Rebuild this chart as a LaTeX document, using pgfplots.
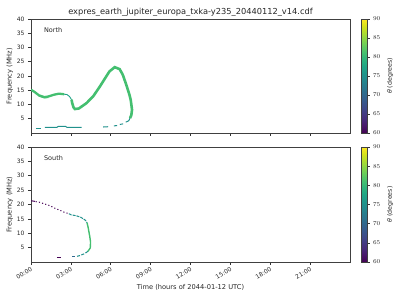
\documentclass[border=0pt]{standalone}
\usepackage{fontspec}
\setmainfont{DejaVu Sans}
\usepackage{pgfplots}
\pgfplotsset{compat=1.18}
\definecolor{vgreen}{HTML}{44BF70}
\definecolor{vteal}{HTML}{21918C}
\definecolor{vteal2}{HTML}{1FA187}
\definecolor{vpurple}{HTML}{440154}
\definecolor{vblue}{HTML}{31688E}
\pgfplotsset{
  myax/.style={
    scale only axis, width=319bp,
    xmin=0, xmax=24, ymin=0, ymax=40,
    xtick={0,3,...,21}, ytick={5,10,...,40},
    tick pos=left, tick align=outside, major tick length=3bp,
    tick style={black!80, line width=0.6bp},
    axis line style={line width=0.6bp, black!75},
    ticklabel style={font=\fontsize{6}{7}\selectfont, text=black!85},
    /pgf/number format/assume math mode=true,
    ylabel={Frequency (MHz)},
    ylabel style={font=\fontsize{6.7}{7}\selectfont, text=black!85, yshift=-3bp},
    colormap name=viridis, point meta min=60, point meta max=90,
    colorbar,
    colorbar style={
      width=6bp, at={(parent axis.north east)}, anchor=north west, xshift=2.5bp,
      ytick={60,65,...,90}, ytick pos=right, tick align=outside, major tick length=2.5bp,
      yticklabel style={font=\fontsize{6}{7}\selectfont, text=black!85},
      ylabel={{\itshape θ} (degrees)},
      ylabel style={font=\fontsize{6.3}{7}\selectfont, text=black!85},
      axis line style={line width=0.5bp, black!75},
    },
  }
}
\begin{document}
\begin{tikzpicture}[x=1bp,y=1bp]
\path[use as bounding box] (0,0) rectangle (400,300);
% ---------------- North ----------------
\begin{axis}[myax, height=114bp, at={(31bp,167bp)}, anchor=south west,
  xticklabels={},
  title={expres\_earth\_jupiter\_europa\_txka-y235\_20440112\_v14.cdf},
  title style={font=\fontsize{8.3}{9}\selectfont, text=black!85, at={(0.5,1)}, anchor=south, yshift=-6.5bp}]
\node[anchor=west, font=\fontsize{6.5}{7}\selectfont, text=black!85] at (rel axis cs:0.03,0.905) {North};
% upper green band, first part
\addplot[vgreen, line width=2.3bp] coordinates {(0,15.2) (0.3,14.3) (0.6,13.2) (1.0,12.6) (1.3,12.8) (1.7,13.4) (2.1,13.8) (2.5,13.6)};
\addplot[vgreen, line width=1.5bp] coordinates {(0.6,13.0) (1.0,12.4) (1.3,12.5)};
% thin teal part
\addplot[vteal2, line width=0.9bp] coordinates {(2.5,13.6) (2.7,13.5) (2.9,12.8) (3.05,11.7)};
% green dip and rise, peak and descent
\addplot[vgreen, line width=2.6bp] coordinates {(3.05,11.7) (3.1,10.5) (3.2,9.0) (3.3,8.4) (3.6,8.6) (4.18,10.5) (4.7,13.0) (5.18,16.3) (5.6,19.4) (5.9,21.6) (6.3,23.1) (6.67,22.4) (6.9,20.5) (7.17,16.9) (7.4,13.5) (7.5,11.7) (7.6,8.2) (7.55,6.3) (7.45,5.2)};
% lower teal branch
\addplot[vteal, line width=1bp] coordinates {(7.45,5.2) (7.35,4.3) (7.13,3.8)};
\addplot[vteal, line width=1bp] coordinates {(6.93,3.2) (6.68,3.0)};
\addplot[vteal, line width=1bp] coordinates {(6.48,2.6) (6.23,2.5)};
\addplot[vteal, line width=1bp] coordinates {(5.8,2.2) (5.42,2.1)};
% lower dashes (left)
\addplot[vteal, line width=1bp] coordinates {(0.37,1.6) (0.73,1.6)};
\addplot[vteal, line width=1bp] coordinates {(1.05,2.0) (1.95,2.0) (2.05,2.3) (2.6,2.3) (2.7,2.0) (3.8,2.0)};
\end{axis}
% ---------------- South ----------------
\begin{axis}[myax, height=115bp, at={(31bp,38bp)}, anchor=south west,
  xticklabels={00:00,03:00,06:00,09:00,12:00,15:00,18:00,21:00},
  xticklabel style={rotate=30, anchor=north east, inner sep=1bp},
  xlabel={Time (hours of 2044-01-12 UTC)},
  xlabel style={font=\fontsize{6.7}{7}\selectfont, text=black!85, yshift=0bp}]
\node[anchor=west, font=\fontsize{6.5}{7}\selectfont, text=black!85] at (rel axis cs:0.03,0.905) {South};
\addplot[vpurple, line width=1bp] coordinates {(0,21.3) (0.3,21.1)};
\addplot[vpurple, line width=1bp, dash pattern=on 1.1bp off 2.2bp] coordinates {(0.35,21.0) (0.67,20.75) (1.02,20.2) (1.42,19.6) (1.8,18.7) (2.17,18.0) (2.5,17.3) (2.78,16.9)};
\addplot[vteal, line width=1bp, dash pattern=on 3bp off 1bp] coordinates {(2.85,16.8) (3.02,16.4) (3.4,16.1) (3.77,15.5) (3.9,15.1) (4.1,14.5) (4.22,13.6)};
\addplot[vgreen, line width=1.4bp] coordinates {(4.22,13.6) (4.3,12.0) (4.35,10.7) (4.42,8.9) (4.48,7.0) (4.46,4.9) (4.28,3.7)};
\addplot[vteal, line width=1bp, dash pattern=on 3bp off 1.5bp] coordinates {(4.28,3.7) (4.03,2.9) (3.65,2.2) (3.4,1.9)};
\addplot[vblue, line width=1bp] coordinates {(3.1,1.77) (3.28,1.77)};
\addplot[vpurple, line width=1.2bp] coordinates {(1.95,1.5) (2.23,1.5)};
\end{axis}
\end{tikzpicture}
\end{document}
